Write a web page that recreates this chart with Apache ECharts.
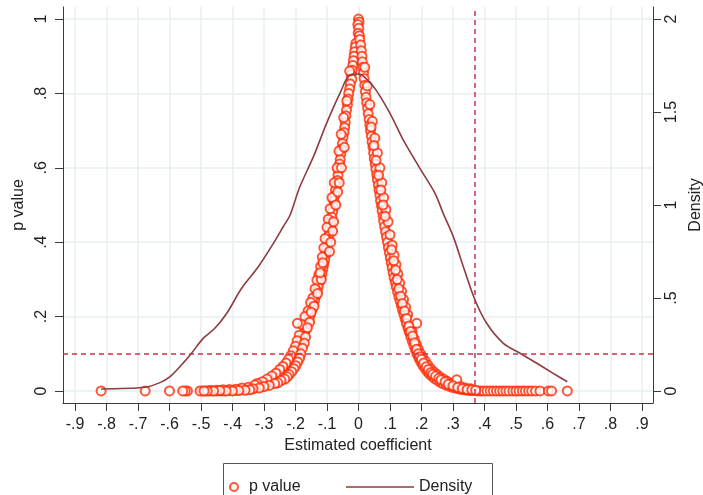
<!DOCTYPE html>
<html>
<head>
<meta charset="utf-8">
<script src="https://cdn.jsdelivr.net/npm/echarts@6/dist/echarts.min.js"></script>
<style>html,body{margin:0;padding:0;background:#fff}#c{width:703px;height:495px}</style>
</head>
<body>
<div id="c"></div>
<script>
// Estimated coefficient (x) and p value (y) of each estimate
const coefX = [
  0.000,0.002,-0.002,0.001,-0.001,0.003,
  -0.008,-0.010,-0.012,-0.014,-0.016,-0.018,-0.020,-0.023,-0.021,-0.026,-0.028,-0.031,-0.033,-0.035,
  -0.038,-0.040,-0.042,-0.044,-0.046,-0.049,-0.051,-0.053,-0.056,-0.058,-0.060,-0.063,-0.065,-0.067,
  -0.070,-0.073,-0.075,-0.078,-0.080,-0.082,-0.085,-0.087,-0.089,-0.092,-0.094,-0.097,-0.099,-0.101,
  -0.104,-0.107,-0.110,-0.113,-0.116,-0.120,-0.124,-0.128,-0.131,-0.135,-0.139,-0.143,-0.147,-0.152,
  -0.156,-0.160,-0.165,-0.170,-0.175,-0.180,-0.185,-0.190,-0.196,-0.202,-0.208,-0.214,-0.221,-0.228,
  -0.236,-0.244,-0.252,-0.260,-0.269,-0.278,-0.288,-0.298,-0.308,-0.318,-0.330,-0.342,-0.354,-0.366,
  -0.378,-0.390,-0.402,-0.414,-0.426,-0.438,-0.450,-0.462,-0.474,-0.486,-0.496,-0.503,-0.543,-0.550,
  -0.558,-0.600,-0.677,-0.817,
  -0.028,-0.037,-0.047,-0.055,-0.062,-0.068,-0.077,-0.084,-0.090,-0.096,-0.100,-0.106,-0.110,-0.115,
  -0.120,-0.126,-0.132,-0.138,-0.145,-0.152,-0.160,-0.170,-0.178,-0.194,-0.188,-0.195,-0.200,-0.207,
  -0.215,-0.222,-0.230,-0.240,-0.250,-0.262,-0.275,-0.290,-0.305,-0.322,-0.329,-0.350,-0.370,-0.390,
  -0.410,-0.430,-0.450,-0.470,
  -0.118,-0.122,-0.113,-0.130,-0.141,-0.150,-0.155,-0.162,-0.168,-0.172,-0.178,-0.183,-0.187,-0.193,
  -0.199,-0.205,-0.212,-0.220,-0.226,-0.234,-0.246,-0.256,-0.266,-0.283,-0.300,-0.315,-0.335,-0.345,
  -0.360,-0.380,-0.400,-0.420,-0.440,-0.460,-0.480,-0.490,-0.082,-0.088,-0.092,-0.079,-0.072,-0.066,
  -0.061,-0.054,-0.045,
  0.004,0.007,0.009,0.011,0.012,0.014,0.016,0.018,0.020,0.022,0.024,0.026,0.029,0.031,0.034,0.036,
  0.038,0.041,0.043,0.046,0.048,0.050,0.053,0.055,0.058,0.060,0.063,0.065,0.068,0.070,0.073,0.075,
  0.078,0.080,0.083,0.086,0.089,0.092,0.095,0.098,0.101,0.104,0.107,0.110,0.113,0.117,0.120,0.124,
  0.128,0.132,0.136,0.140,0.144,0.148,0.152,0.157,0.161,0.166,0.171,0.176,0.181,0.186,0.192,0.198,
  0.204,0.211,0.218,0.225,0.233,0.241,0.250,0.259,0.268,0.278,0.288,0.298,0.308,0.318,0.328,0.338,
  0.348,0.358,0.368,0.378,0.388,0.398,0.408,0.418,0.428,0.438,0.448,0.458,0.468,0.478,0.490,0.500,
  0.510,0.520,0.530,0.540,0.550,0.562,0.576,0.603,0.613,0.663,
  0.020,0.028,0.036,0.044,0.052,0.060,0.068,0.074,0.080,0.087,0.094,0.100,0.107,0.113,0.119,0.125,
  0.131,0.137,0.143,0.150,0.156,0.185,0.170,0.177,0.184,0.190,0.197,0.204,0.212,0.220,0.229,0.238,
  0.248,0.258,0.270,0.282,0.295,0.312,0.325,0.340,0.355,
  0.105,0.112,0.118,0.123,0.128,0.134,0.139,0.146,0.153,0.160,0.165,0.172,0.178,0.184,0.190,0.195,
  0.200,0.207,0.215,0.222,0.230,0.236,0.245,0.255,0.262,0.275,0.285,0.300,0.315,0.330,0.345,0.360,
  0.372,0.085,0.078,0.071,0.064,0.056,0.049,0.040
];
const pValue = [
  1.000,0.992,0.985,0.975,0.962,0.955,
  0.935,0.925,0.912,0.900,0.888,0.875,0.862,0.850,0.838,0.825,0.812,0.800,0.785,0.770,
  0.755,0.740,0.722,0.708,0.695,0.682,0.665,0.650,0.638,0.622,0.610,0.595,0.580,0.566,
  0.552,0.540,0.525,0.510,0.495,0.482,0.468,0.455,0.442,0.430,0.418,0.405,0.392,0.380,
  0.366,0.352,0.340,0.328,0.316,0.304,0.292,0.280,0.268,0.256,0.244,0.232,0.220,0.208,
  0.196,0.185,0.172,0.160,0.148,0.136,0.124,0.112,0.102,0.092,0.082,0.074,0.066,0.058,
  0.051,0.045,0.039,0.034,0.029,0.025,0.021,0.017,0.014,0.011,0.009,0.007,0.005,0.004,
  0.003,0.002,0.001,0.001,0.000,0.000,0.000,0.000,0.000,0.000,0.000,0.000,0.000,0.000,
  0.000,0.000,0.000,0.000,
  0.860,0.780,0.735,0.690,0.645,0.600,0.560,0.520,0.490,0.462,0.440,0.410,0.385,0.360,
  0.335,0.312,0.298,0.275,0.250,0.238,0.215,0.200,0.178,0.182,0.150,0.135,0.120,0.108,
  0.095,0.085,0.075,0.066,0.058,0.048,0.040,0.032,0.025,0.020,0.016,0.010,0.008,0.005,
  0.004,0.003,0.002,0.001,
  0.300,0.318,0.345,0.262,0.228,0.212,0.185,0.170,0.145,0.128,0.115,0.100,0.088,0.078,
  0.068,0.060,0.052,0.044,0.038,0.032,0.028,0.022,0.020,0.015,0.012,0.008,0.006,0.003,
  0.002,0.001,0.000,0.000,0.001,0.000,0.000,0.000,0.430,0.400,0.375,0.455,0.500,0.535,
  0.560,0.600,0.655,
  0.945,0.930,0.915,0.900,0.885,0.870,0.855,0.840,0.822,0.805,0.790,0.775,0.760,0.745,0.730,0.715,
  0.700,0.685,0.670,0.655,0.640,0.625,0.610,0.596,0.582,0.568,0.554,0.540,0.526,0.512,0.498,0.484,
  0.470,0.456,0.442,0.428,0.414,0.400,0.386,0.372,0.358,0.345,0.332,0.318,0.305,0.292,0.280,0.267,
  0.254,0.242,0.230,0.218,0.206,0.194,0.182,0.170,0.158,0.146,0.134,0.122,0.110,0.099,0.088,0.078,
  0.069,0.061,0.053,0.046,0.040,0.034,0.029,0.024,0.020,0.016,0.013,0.010,0.008,0.006,0.004,0.003,
  0.002,0.001,0.001,0.000,0.000,0.000,0.000,0.000,0.000,0.000,0.000,0.000,0.000,0.000,0.000,0.000,
  0.000,0.000,0.000,0.000,0.000,0.000,0.000,0.000,0.000,0.000,
  0.870,0.820,0.770,0.725,0.680,0.640,0.600,0.560,0.520,0.488,0.455,0.420,0.392,0.365,0.340,0.315,
  0.290,0.268,0.246,0.225,0.205,0.182,0.160,0.140,0.125,0.112,0.100,0.090,0.080,0.070,0.060,0.052,
  0.045,0.038,0.032,0.026,0.020,0.030,0.012,0.008,0.006,
  0.380,0.350,0.325,0.300,0.275,0.255,0.235,0.215,0.195,0.175,0.160,0.148,0.130,0.112,0.100,0.092,
  0.085,0.075,0.065,0.058,0.050,0.045,0.040,0.034,0.030,0.025,0.018,0.014,0.010,0.007,0.004,0.003,
  0.002,0.470,0.500,0.540,0.580,0.620,0.660,0.710
];
// Kernel density of the estimated coefficient
const densX = [-0.817,-0.678,-0.630,-0.598,-0.567,-0.530,-0.493,-0.456,-0.418,-0.371,-0.318,-0.270,-0.239,-0.217,-0.188,-0.143,-0.101,-0.059,-0.027,0.000,0.015,0.052,0.100,0.142,0.195,0.243,0.269,0.301,0.333,0.370,0.407,0.460,0.513,0.566,0.618,0.663];
const densY = [0.011,0.020,0.045,0.077,0.130,0.203,0.283,0.337,0.418,0.552,0.668,0.794,0.883,0.946,1.090,1.260,1.440,1.600,1.700,1.704,1.694,1.627,1.493,1.350,1.197,1.063,0.955,0.830,0.668,0.489,0.364,0.256,0.203,0.149,0.095,0.050];
// Reference lines
const refP = 0.1;
const refCoef = 0.37;
// Tick labels
const xTicks = [-0.9,-0.8,-0.7,-0.6,-0.5,-0.4,-0.3,-0.2,-0.1,0,0.1,0.2,0.3,0.4,0.5,0.6,0.7,0.8,0.9];
const pTicks = [0,0.2,0.4,0.6,0.8,1];
const dTicks = [0,0.5,1,1.5,2];

function fmt(v){
  let s = String(Math.round(v*10)/10);
  return s.replace(/^(-?)0\./,'$1.');
}
const FONT = 'Liberation Sans, Arial, Helvetica, sans-serif';
const axisLine = {show:true, onZero:false, lineStyle:{color:'#3a3a3a', width:1}};
const grid = {left:63, right:50, top:7, bottom:92, containLabel:false, outerBoundsMode:'none'};
const chart = echarts.init(document.getElementById('c'), null, {renderer:'canvas'});
const scatterData = coefX.map((x,i)=>[x,pValue[i]]);
const densData = densX.map((x,i)=>[x,densY[i]]);
chart.setOption({
  animation:false,
  backgroundColor:'#fff',
  grid: grid,
  xAxis: {
    type:'value', min:-0.938, max:0.935,
    name:'Estimated coefficient', nameLocation:'middle', nameGap:26,
    nameTextStyle:{fontFamily:FONT, fontSize:16, color:'#222'},
    axisLine: axisLine,
    axisTick:{show:true, length:8, customValues:xTicks, lineStyle:{color:'#3a3a3a'}},
    axisLabel:{customValues:xTicks, formatter:fmt, margin:14, fontFamily:FONT, fontSize:16, color:'#222'},
    splitLine:{show:true, lineStyle:{color:'#e7eff2', width:1.5}}
  },
  yAxis: [{
    type:'value', min:-0.0323, max:1.0323, position:'left',
    name:'p value', nameLocation:'middle', nameGap:28,
    nameTextStyle:{fontFamily:FONT, fontSize:16, color:'#222'},
    axisLine: axisLine,
    axisTick:{show:true, length:8, customValues:pTicks, lineStyle:{color:'#3a3a3a'}},
    axisLabel:{customValues:pTicks, formatter:fmt, rotate:90, margin:13, fontFamily:FONT, fontSize:16, color:'#222'},
    splitLine:{show:true, lineStyle:{color:'#e7eff2', width:1.5}}
  },{
    type:'value', min:-0.0646, max:2.0646, position:'right',
    name:'Density', nameLocation:'middle', nameGap:27, nameRotate:90,
    nameTextStyle:{fontFamily:FONT, fontSize:16, color:'#222'},
    axisLine: axisLine,
    axisTick:{show:true, length:8, customValues:dTicks, lineStyle:{color:'#3a3a3a'}},
    axisLabel:{customValues:dTicks, formatter:fmt, rotate:90, margin:11, fontFamily:FONT, fontSize:16, color:'#222'},
    splitLine:{show:false}
  }],
  legend: [{
    data:[{name:'p value', icon:'emptyCircle'}],
    left:224, top:474, itemWidth:20, itemHeight:8,
    textStyle:{fontFamily:FONT, fontSize:16, color:'#222'}
  },{
    data:[{name:'Density', icon:'path://M0,0H68V1.6H0Z'}],
    left:341, top:474, itemWidth:68, itemHeight:14,
    textStyle:{fontFamily:FONT, fontSize:16, color:'#222'}
  }],
  graphic:[{
    type:'rect', shape:{x:223.5, y:463.5, width:269, height:60},
    style:{fill:'none', stroke:'#555', lineWidth:1}, silent:true
  }],
  series: [{
    name:'p value', type:'scatter', yAxisIndex:0,
    data: scatterData,
    symbol:'emptyCircle', symbolSize:9,
    itemStyle:{color:'#ff2a05', borderColor:'#ff2a05', borderWidth:1.6},
    markLine:{
      silent:true, symbol:['none','none'], label:{show:false},
      lineStyle:{color:'#c8324c', type:[5,4], width:1.5},
      data:[{yAxis:refP},{xAxis:refCoef}]
    },
    z:2
  },{
    name:'Density', type:'line', yAxisIndex:1,
    data: densData, symbol:'none', smooth:0.3,
    lineStyle:{color:'#8f3b40', width:1.6},
    itemStyle:{color:'#8f3b40'},
    z:3
  }]
});
</script>
</body>
</html>
